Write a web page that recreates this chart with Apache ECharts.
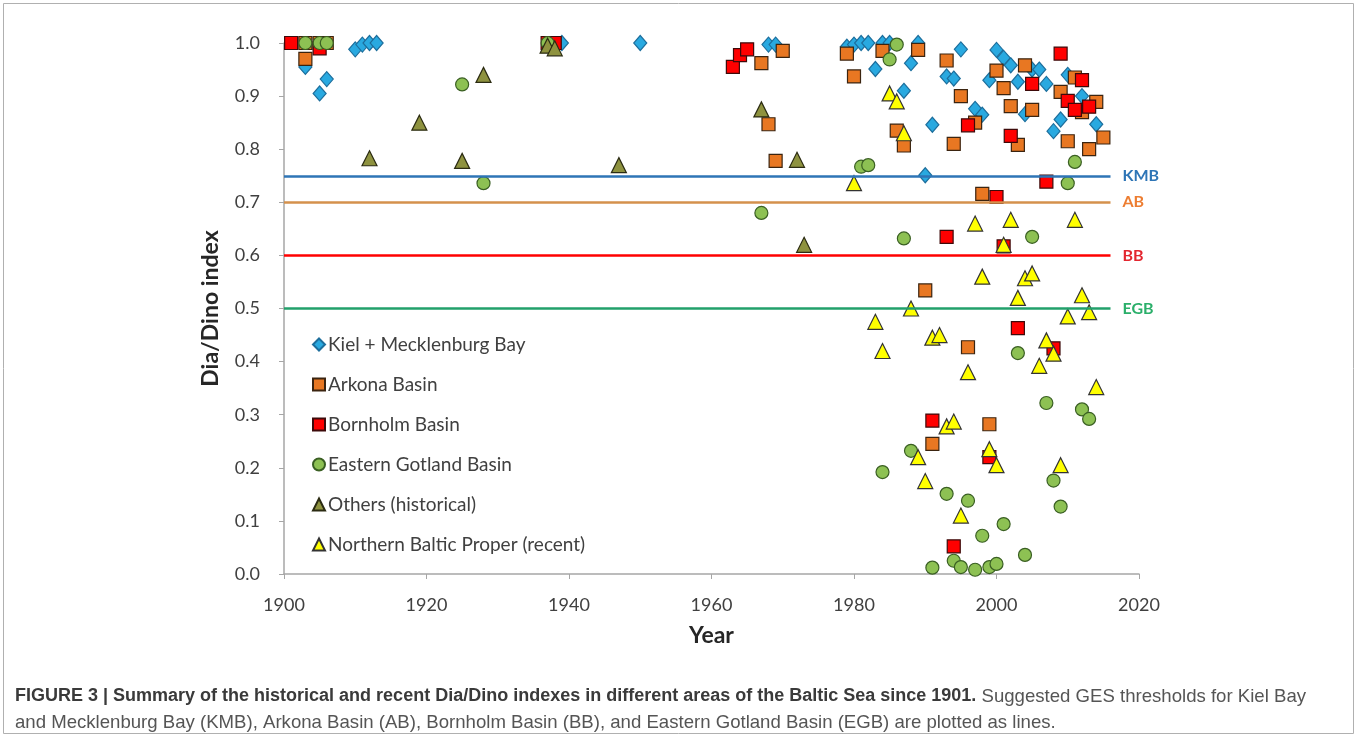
<!DOCTYPE html>
<html>
<head>
<meta charset="utf-8">
<script src="https://cdn.jsdelivr.net/npm/echarts@6/dist/echarts.min.js"></script>
<style>
  html, body { margin: 0; padding: 0; background: #fff; }
  #main { width: 1358px; height: 738px; }
</style>
</head>
<body>
<div id="main"></div>
<script>
// [year, Dia/Dino index] per area
var kiel = [[1903,0.955],[1905,0.905],[1906,0.932],[1910,0.988],[1911,0.997],[1912,1.0],[1913,1.0],
  [1939,1.0],[1950,1.0],[1968,0.997],[1969,0.997],[1979,0.993],[1980,0.997],[1981,1.0],[1982,1.0],
  [1983,0.951],[1984,1.0],[1985,1.0],[1987,0.91],[1988,0.962],[1989,1.0],[1990,0.751],[1991,0.846],
  [1993,0.937],[1994,0.933],[1995,0.988],[1997,0.876],[1998,0.865],[1999,0.93],[2000,0.987],
  [2001,0.972],[2002,0.958],[2003,0.927],[2004,0.866],[2005,0.95],[2006,0.95],[2007,0.923],
  [2008,0.834],[2009,0.856],[2010,0.94],[2012,0.9],[2014,0.847]];
var arkona = [[1903,1.0],[1905,1.0],[1906,1.0],[1903,0.97],[1967,0.962],[1968,0.847],[1969,0.778],
  [1970,0.985],[1979,0.98],[1980,0.937],[1984,0.985],[1986,0.835],[1987,0.807],[1989,0.987],
  [1990,0.534],[1991,0.245],[1993,0.967],[1994,0.81],[1995,0.9],[1996,0.427],[1997,0.85],
  [1998,0.716],[1999,0.282],[2000,0.948],[2001,0.915],[2002,0.881],[2003,0.808],[2004,0.958],
  [2005,0.874],[2009,0.908],[2010,0.815],[2011,0.935],[2012,0.87],[2013,0.8],[2014,0.889],[2015,0.822]];
var bornholm = [[1901,1.0],[1905,0.99],[1937,1.0],[1938,1.0],[1963,0.955],[1964,0.977],[1965,0.988],
  [1991,0.289],[1993,0.635],[1994,0.052],[1996,0.845],[1999,0.22],[2000,0.71],[2001,0.617],
  [2002,0.825],[2003,0.463],[2005,0.923],[2007,0.739],[2008,0.425],[2009,0.98],[2010,0.891],
  [2011,0.874],[2012,0.93],[2013,0.88]];
var gotland = [[1903,1.0],[1905,1.0],[1906,1.0],[1925,0.922],[1928,0.736],[1937,1.0],[1967,0.68],
  [1981,0.767],[1982,0.77],[1984,0.192],[1985,0.969],[1986,0.997],[1987,0.632],[1988,0.232],
  [1991,0.012],[1993,0.151],[1994,0.025],[1995,0.013],[1996,0.138],[1997,0.008],[1998,0.072],
  [1999,0.013],[2000,0.019],[2001,0.094],[2003,0.416],[2004,0.036],[2005,0.635],[2007,0.322],
  [2008,0.176],[2009,0.127],[2010,0.736],[2011,0.776],[2012,0.31],[2013,0.292]];
var others = [[1912,0.783],[1919,0.85],[1925,0.778],[1928,0.94],[1937,0.995],[1938,0.99],[1947,0.77],
  [1967,0.875],[1972,0.78],[1973,0.62]];
var northern = [[1980,0.736],[1983,0.475],[1984,0.42],[1985,0.905],[1986,0.89],[1987,0.83],[1988,0.5],
  [1989,0.22],[1990,0.175],[1991,0.445],[1992,0.45],[1993,0.278],[1994,0.287],[1995,0.11],[1996,0.38],
  [1997,0.66],[1998,0.56],[1999,0.235],[2000,0.205],[2001,0.62],[2002,0.667],[2003,0.52],[2004,0.557],
  [2005,0.566],[2006,0.392],[2007,0.44],[2008,0.415],[2009,0.205],[2010,0.485],[2011,0.667],
  [2012,0.525],[2013,0.493],[2014,0.352]];

// GES thresholds
var thrNames = ["KMB", "AB", "BB", "EGB"];
var thrValues = [0.75, 0.70, 0.60, 0.50];
var thrLine = ["#2E75B6", "#D4914C", "#FF0000", "#22A06B"];
var thrText = ["#2E75B6", "#ED7D31", "#E3262F", "#2BAF6A"];
var thrFrom = 1900, thrTo = 2016;

var xTicks = [1900, 2020, 20];   // min, max, step
var yTicks = [0, 1, 0.1];

var font = "Lato, 'Noto Sans', sans-serif";
var capFont = "'Liberation Sans', Arial, sans-serif";

var chart = echarts.init(document.getElementById("main"));

function pts(name, data, symbol, size, fill, border) {
  return {
    name: name, type: "scatter", data: data,
    symbol: symbol, symbolSize: size,
    itemStyle: { color: fill, borderColor: border, borderWidth: 1.2, opacity: 1 },
    emphasis: { disabled: true },
    z: 3
  };
}

var lines = thrNames.map(function (n, i) {
  return [
    { coord: [thrFrom, thrValues[i]], lineStyle: { color: thrLine[i], width: 2.5, type: "solid" },
      label: { show: true, position: "end", formatter: n, color: thrText[i],
               fontWeight: "bold", fontSize: 16, fontFamily: font, distance: 12 } },
    { coord: [thrTo, thrValues[i]] }
  ];
});

var option = {
  backgroundColor: "#fff",
  animation: false,
  grid: { left: 284, right: 219, top: 43, bottom: 164 },
  xAxis: {
    type: "value", min: xTicks[0], max: xTicks[1], interval: xTicks[2],
    name: "Year", nameLocation: "middle", nameGap: 50,
    nameTextStyle: { fontSize: 23, fontWeight: "bold", color: "#262626", fontFamily: font },
    axisLine: { lineStyle: { color: "#a6a6a6", width: 1.5 } },
    axisTick: { show: true, length: 5, lineStyle: { color: "#a6a6a6" } },
    axisLabel: { fontSize: 18, color: "#404040", fontFamily: font, margin: 22,
                 formatter: function (v) { return String(v); } },
    splitLine: { show: false }
  },
  yAxis: {
    type: "value", min: yTicks[0], max: yTicks[1], interval: yTicks[2],
    name: "Dia/Dino index", nameLocation: "middle", nameGap: 62,
    nameTextStyle: { fontSize: 23, fontWeight: "bold", color: "#262626", fontFamily: font },
    axisLine: { show: true, lineStyle: { color: "#a6a6a6", width: 1.5 } },
    axisTick: { show: true, length: 5, lineStyle: { color: "#a6a6a6" } },
    axisLabel: { fontSize: 18, color: "#404040", fontFamily: font, margin: 24,
                 formatter: function (v) { return v.toFixed(1); } },
    splitLine: { show: false }
  },
  legend: {
    data: ["Kiel + Mecklenburg Bay", "Arkona Basin", "Bornholm Basin", "Eastern Gotland Basin",
           "Others (historical)", "Northern Baltic Proper (recent)"],
    orient: "vertical", left: 307, top: 330, itemGap: 21,
    itemWidth: 12, itemHeight: 12,
    textStyle: { fontSize: 19, color: "#404040", fontFamily: font, padding: [0, 0, 0, -2] },
    selectedMode: false
  },
  title: [
    {
      text: "{b|FIGURE 3 | Summary of the historical and recent Dia/Dino indexes in different areas of the Baltic Sea since 1901.}{n| Suggested GES thresholds for Kiel Bay}",
      left: 10, top: 682,
      textStyle: { fontWeight: "normal", rich: {
        b: { fontSize: 18, fontWeight: "bold", color: "#3a3a3a", fontFamily: capFont },
        n: { fontSize: 18.6, fontWeight: "normal", color: "#555555", fontFamily: capFont }
      } }
    },
    {
      text: "and Mecklenburg Bay (KMB), Arkona Basin (AB), Bornholm Basin (BB), and Eastern Gotland Basin (EGB) are plotted as lines.",
      left: 10, top: 708,
      textStyle: { fontSize: 18.6, fontWeight: "normal", color: "#555555", fontFamily: capFont }
    }
  ],
  graphic: [
    { type: "rect", shape: { x: 3.5, y: 3.5, width: 1350, height: 730 },
      style: { fill: "none", stroke: "#b0b0b0", lineWidth: 1 }, silent: true }
  ],
  series: [
    pts("Kiel + Mecklenburg Bay", kiel, "diamond", [13, 15], "#29A9E0", "#1d6e9c"),
    pts("Arkona Basin", arkona, "rect", 13, "#E87722", "#3b2410"),
    pts("Bornholm Basin", bornholm, "rect", 13, "#FF0000", "#3d0a0a"),
    pts("Eastern Gotland Basin", gotland, "circle", 13, "#8DC153", "#3a5f23"),
    pts("Others (historical)", others, "triangle", 15, "#8E923F", "#2b2b12"),
    pts("Northern Baltic Proper (recent)", northern, "triangle", 15, "#FFFF00", "#333333"),
    {
      name: "thresholds", type: "line", data: [], silent: true, z: 4,
      markLine: { symbol: "none", silent: true, animation: false, data: lines }
    }
  ]
};

chart.setOption(option);
</script>
</body>
</html>
